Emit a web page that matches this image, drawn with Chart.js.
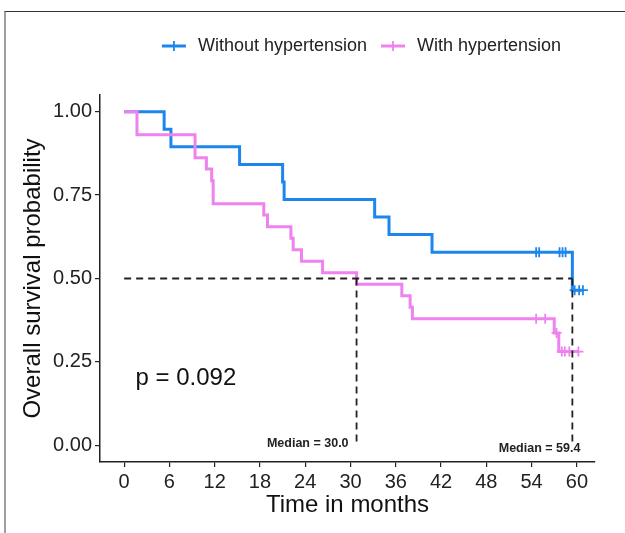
<!DOCTYPE html>
<html lang="en">
<head>
<meta charset="UTF-8">
<title>Overall survival by hypertension</title>
<style>
body { margin: 0; background: white; }
#wrap { position: relative; width: 625px; height: 533px; overflow: hidden; }
#frame { position: absolute; left: 4px; top: 11px; width: 700px; height: 600px; border-top: 1px solid #333; border-left: 2px solid #a0a0a0; }
#chart { position: absolute; left: 0; top: 0; }
</style>
</head>
<body>
<div id="wrap">
<div id="frame"></div>
<canvas id="chart" width="625" height="533"></canvas>
</div>
<script src="https://cdn.jsdelivr.net/npm/chart.js"></script>
<script>
const groupNames = ['Without hypertension', 'With hypertension'];
const groupColors = ['#1C86EE', '#EE82EE'];

// KM steps (time in months, survival)
const noHtTime = [0, 5.3, 6.2, 15.3, 21.0, 21.2, 33.2, 35.1, 40.8, 59.4, 60.8];
const noHtSurv = [1, 0.947, 0.895, 0.842, 0.789, 0.737, 0.684, 0.632, 0.579, 0.465, 0.465];
const noHtCensTime = [54.6, 55.0, 57.7, 58.1, 58.5, 59.7, 60.3, 60.8];
const noHtCensSurv = [0.579, 0.579, 0.579, 0.579, 0.579, 0.465, 0.465, 0.465];

const htTime = [0, 1.7, 9.4, 10.9, 11.6, 11.8, 18.5, 19.0, 22.1, 22.4, 23.5, 26.3, 30.8, 36.8, 37.9, 38.2, 57.0, 57.6, 60.2];
const htSurv = [1, 0.931, 0.862, 0.828, 0.793, 0.724, 0.690, 0.655, 0.621, 0.586, 0.552, 0.517, 0.483, 0.448, 0.414, 0.379, 0.337, 0.281, 0.281];
const htCensTime = [54.6, 55.8, 57.3, 58.0, 58.4, 59.0, 60.2];
const htCensSurv = [0.379, 0.379, 0.337, 0.281, 0.281, 0.281, 0.281];

const medianTimes = [30.8, 59.4];
const medianLabels = ['Median = 30.0', 'Median = 59.4'];
const pValueText = 'p = 0.092';

const xTicks = [0, 6, 12, 18, 24, 30, 36, 42, 48, 54, 60];
const yTicks = [0, 0.25, 0.5, 0.75, 1];

const FONT = '"Liberation Sans", Arial, sans-serif';
const pts = (xs, ys) => xs.map((t, i) => ({x: t, y: ys[i]}));

const datasets = [
    { label: groupNames[1], data: pts(htTime, htSurv), borderColor: groupColors[1], borderWidth: 3, stepped: true, pointRadius: 0, order: 0 },
    { label: groupNames[1] + ' censored', data: pts(htCensTime, htCensSurv), borderColor: groupColors[1], showLine: false, pointStyle: 'cross', pointRadius: 5, borderWidth: 1.8, order: 0 },
    { label: groupNames[0], data: pts(noHtTime, noHtSurv), borderColor: groupColors[0], borderWidth: 3, stepped: true, pointRadius: 0, order: 1 },
    { label: groupNames[0] + ' censored', data: pts(noHtCensTime, noHtCensSurv), borderColor: groupColors[0], showLine: false, pointStyle: 'cross', pointRadius: 5, borderWidth: 1.8, order: 1 },
    { label: 'median', data: [{x: 0, y: 0.5}, {x: Math.max(...medianTimes), y: 0.5}], borderColor: '#222', borderWidth: 1.8, borderDash: [7, 5], pointRadius: 0, order: -1 }
];
medianTimes.forEach(m => {
    datasets.push({ label: 'median', data: [{x: m, y: 0.5}, {x: m, y: 0}], borderColor: '#222', borderWidth: 1.8, borderDash: [7, 5], pointRadius: 0, order: -1 });
});

const annotate = {
    id: 'annotate',
    afterDatasetsDraw(chart) {
        const { ctx, scales: { x, y } } = chart;
        ctx.save();
        ctx.fillStyle = '#111';
        ctx.textBaseline = 'middle';
        ctx.textAlign = 'left';
        ctx.font = '24px ' + FONT;
        ctx.fillText(pValueText, x.getPixelForValue(1.5), y.getPixelForValue(0.2));
        ctx.font = 'bold 12.5px ' + FONT;
        ctx.fillStyle = '#222';
        ctx.textAlign = 'right';
        medianTimes.forEach((m, i) => {
            ctx.fillText(medianLabels[i], x.getPixelForValue(m) + (i ? 8 : -8), y.getPixelForValue(0) + (i ? 3 : -2));
        });
        ctx.restore();
    },
    afterDraw(chart) {
        const { ctx, chartArea } = chart;
        ctx.save();
        ctx.font = '18px ' + FONT;
        ctx.textBaseline = 'middle';
        ctx.textAlign = 'left';
        const symW = 24, symGap = 12, itemGap = 14;
        const widths = groupNames.map(n => ctx.measureText(n).width);
        const total = widths.reduce((s, w) => s + symW + symGap + w, 0) + itemGap * (groupNames.length - 1);
        let xPos = (chartArea.left + chartArea.right) / 2 + 14 - total / 2;
        const yPos = 46;
        groupNames.forEach((n, i) => {
            ctx.strokeStyle = groupColors[i];
            ctx.lineWidth = 3;
            ctx.beginPath();
            ctx.moveTo(xPos, yPos);
            ctx.lineTo(xPos + symW, yPos);
            ctx.stroke();
            ctx.lineWidth = 1.8;
            ctx.beginPath();
            ctx.moveTo(xPos + symW / 2, yPos - 5);
            ctx.lineTo(xPos + symW / 2, yPos + 5);
            ctx.stroke();
            ctx.fillStyle = '#222';
            ctx.fillText(n, xPos + symW + symGap, yPos);
            xPos += symW + symGap + widths[i] + itemGap;
        });
        ctx.restore();
    }
};

new Chart(document.getElementById('chart'), {
    type: 'line',
    data: { datasets },
    options: {
        responsive: false,
        animation: false,
        layout: { padding: { top: 95, right: 30, left: 0, bottom: 0 } },
        plugins: { legend: { display: false }, tooltip: { enabled: false } },
        scales: {
            x: {
                type: 'linear', min: -3.2, max: 62.4,
                afterBuildTicks: s => { s.ticks = xTicks.map(v => ({ value: v })); },
                afterFit: s => { s.height = 71; },
                grid: { drawOnChartArea: false, drawTicks: true, tickLength: 5, color: '#222', lineWidth: 1.2 },
                border: { display: true, color: '#222', width: 1.5 },
                ticks: { padding: 3, color: '#222', maxRotation: 0, font: { family: FONT, size: 20 }, callback: v => String(v) },
                title: { display: true, text: 'Time in months', color: '#111', font: { family: FONT, size: 24 }, padding: { top: 0, bottom: 13 } }
            },
            y: {
                type: 'linear', min: -0.05, max: 1.05,
                afterBuildTicks: s => { s.ticks = yTicks.map(v => ({ value: v })); },
                afterFit: s => { s.width = 100; },
                grid: { drawOnChartArea: false, drawTicks: true, tickLength: 5, color: '#222', lineWidth: 1.2 },
                border: { display: true, color: '#222', width: 1.5 },
                ticks: { padding: 3, color: '#222', font: { family: FONT, size: 20 }, callback: v => v.toFixed(2) },
                title: { display: true, text: 'Overall survival probability', color: '#111', font: { family: FONT, size: 24 }, padding: { top: 19, bottom: 0 } }
            }
        }
    },
    plugins: [annotate]
});
</script>
</body>
</html>
